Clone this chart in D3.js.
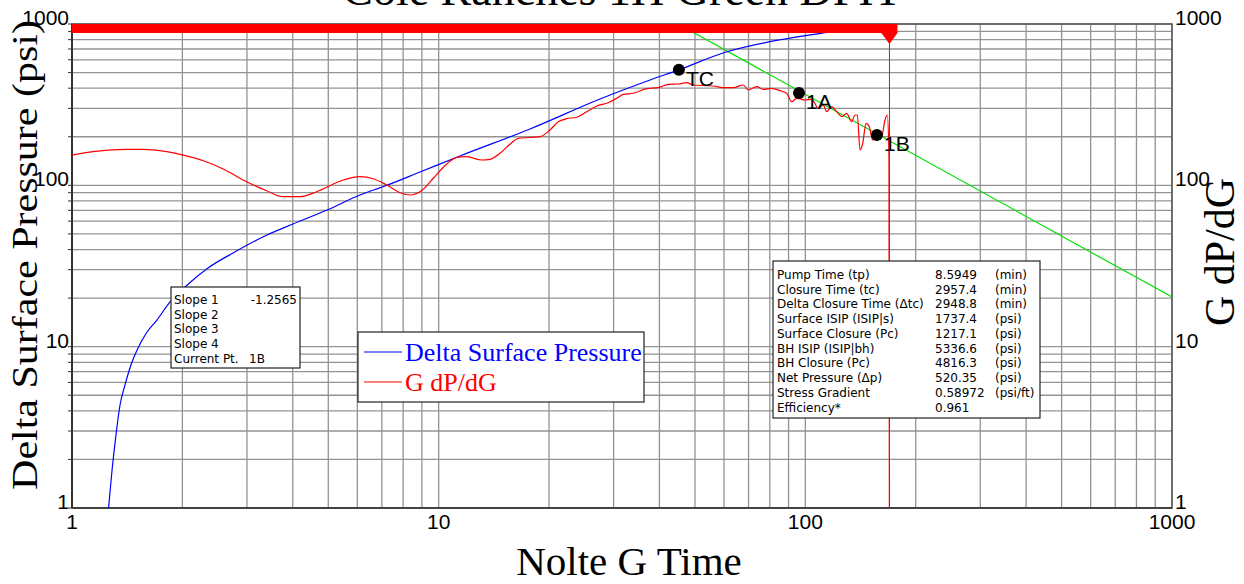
<!DOCTYPE html>
<html><head><meta charset="utf-8">
<script src="https://cdn.jsdelivr.net/npm/d3@7/dist/d3.min.js"></script>
<style>html,body{margin:0;padding:0;background:#fff;}svg{display:block;}</style>
</head><body>
<svg id="chart" width="1244" height="584"></svg>
<script>
// ---------- DATA ----------
const titleText = "Cole Ranches 1H Green DFIT";
const xTickValues = [1, 10, 100, 1000];
const yTickValues = [1, 10, 100, 1000];

// Delta Surface Pressure (psi) vs Nolte G Time
const blueG = [1.258,1.286,1.318,1.352,1.395,1.448,1.514,1.602,1.705,1.851,2.033,2.349,2.749,3.402,4.006,4.961,6.102,7.139,8.894,11.43,17.75,27.54,37.71,45.2,59.62,84.76,111.7,150.1,193];
const blueV = [1.0,1.72,2.84,4.35,5.79,7.70,9.81,12.33,14.63,18.92,23.44,30.73,38.07,49.23,57.6,70.3,87.1,99.1,120.9,152.0,223.5,342.9,449.8,520,661.2,796,879.7,958,1070];

// G dP/dG vs Nolte G Time
const redG = [1.0,1.143,1.41,1.565,1.813,2.012,2.281,2.586,2.995,3.396,3.77,4.186,4.649,5.495,6.102,6.633,7.216,7.845,8.353,8.988,9.669,10.52,11.2,11.93,13.1,13.8,14.7,15.82,16.49,18.9,20.12,21.2,22.35,23.79,25.33,26.98,29.01,30.59,31.88,33.95,36.93,39.72,42.3,45.04,47.48,49.49,56.1,60.37,63.6,67.73,69.89,73.68,76.8,80.96,85.29,88.96,91.8,94.74,99.8,104.1,108.5,111.9,114.4,118.0,121.8,125.7,129.7,133.8,136.6,138.6,141.0,143.4,146.4,149.4,152.6,156.5,161.5,164.9,167.3,169.1,169.6];
const redV = [154,161.6,167.3,167.3,161.6,154,142.1,126.3,105.3,92.6,85.0,85.0,91.3,107.9,113.1,109.9,100.5,90.0,87.1,92.9,110.6,135.6,149.2,150.5,143.6,145.0,157.9,183.8,195.7,200.2,220.3,248.0,258.9,264.1,286.1,310.3,325.3,346.4,366.7,372.0,397.2,402.9,423.0,424.8,432.7,418.8,412.8,402.9,402.9,418.8,389.9,408.8,393.8,399.5,386.1,372.0,329.9,346.4,338.1,341.5,300.3,314.8,286.1,307.2,286.1,266.4,279.6,248.0,272.9,272.9,165.6,182.2,242.4,230.9,191.0,195.7,200.2,254.1,272.9,150,0.5];

// Straight-line fit (slope -1.2565)
const fitG = [46, 1000];
const fitV = [972, 20.3];

// Picked points
const pointNames = ["TC", "1A", "1B"];
const pointG = [45.2, 96.1, 156.8];
const pointV = [520, 374, 205];

const closureG = 169.6;

// Annotation boxes
const slopeLabels = ["Slope 1", "Slope 2", "Slope 3", "Slope 4", "Current Pt."];
const slopeValues = ["-1.2565", "", "", "", "1B"];

const infoLabels = ["Pump Time (tp)","Closure Time (tc)","Delta Closure Time (\u0394tc)","Surface ISIP (ISIP|s)","Surface Closure (Pc)","BH ISIP (ISIP|bh)","BH Closure (Pc)","Net Pressure (\u0394p)","Stress Gradient","Efficiency*"];
const infoValues = ["8.5949","2957.4","2948.8","1737.4","1217.1","5336.6","4816.3","520.35","0.58972","0.961"];
const infoUnits = ["(min)","(min)","(min)","(psi)","(psi)","(psi)","(psi)","(psi)","(psi/ft)",""];

const legendNames = ["Delta Surface Pressure", "G dP/dG"];
const legendColors = ["#0000ff", "#ff0000"];

// ---------- CHART ----------
const svg = d3.select("#chart");
const L = 72, R = 1172, T = 24, B = 508;
const x = d3.scaleLog().domain([1, 1000]).range([L, R]);
const y = d3.scaleLog().domain([1, 1000]).range([B, T]);

svg.append("defs").append("clipPath").attr("id", "clip")
  .append("rect").attr("x", L).attr("y", T).attr("width", R - L).attr("height", B - T);

// grid values
const gridVals = [];
[1, 10, 100].forEach(d => { for (let k = 1; k <= 9; k++) gridVals.push(k * d); });
gridVals.push(1000);

const grid = svg.append("g").attr("stroke", "#939393").attr("stroke-width", 1.3);
gridVals.forEach(v => {
  grid.append("line").attr("x1", x(v)).attr("x2", x(v)).attr("y1", T).attr("y2", B);
  grid.append("line").attr("y1", y(v)).attr("y2", y(v)).attr("x1", L).attr("x2", R);
});

// left axis minor ticks
const ticks = svg.append("g").attr("stroke", "#333").attr("stroke-width", 1);
gridVals.forEach(v => {
  ticks.append("line").attr("x1", L - 4).attr("x2", L).attr("y1", y(v)).attr("y2", y(v));
});

// border
svg.append("rect").attr("x", L).attr("y", T).attr("width", R - L).attr("height", B - T)
  .attr("fill", "none").attr("stroke", "#555").attr("stroke-width", 1.5);
svg.append("line").attr("x1", L).attr("x2", L).attr("y1", T).attr("y2", B).attr("stroke", "#333").attr("stroke-width", 2);
svg.append("line").attr("x1", L).attr("x2", R).attr("y1", B).attr("y2", B).attr("stroke", "#333").attr("stroke-width", 1.5);

const plot = svg.append("g").attr("clip-path", "url(#clip)");

const lineGen = d3.line().x(d => x(d[0])).y(d => y(d[1]));
const smoothLine = d3.line().x(d => x(d[0])).y(d => y(d[1])).curve(d3.curveMonotoneX);

// closure vertical line
plot.append("line").attr("x1", x(closureG)).attr("x2", x(closureG)).attr("y1", T + 9).attr("y2", B)
  .attr("stroke", "#ff0000").attr("stroke-width", 1);

// fit line
plot.append("path").datum(fitG.map((g, i) => [g, fitV[i]])).attr("d", lineGen)
  .attr("fill", "none").attr("stroke", "#00e000").attr("stroke-width", 1.2);

// blue
plot.append("path").datum(blueG.map((g, i) => [g, blueV[i]])).attr("d", smoothLine)
  .attr("fill", "none").attr("stroke", "#0000ff").attr("stroke-width", 1.2);

// red
plot.append("path").datum(redG.map((g, i) => [g, redV[i]])).attr("d", smoothLine)
  .attr("fill", "none").attr("stroke", "#ff0000").attr("stroke-width", 1.2);

// top red band and marker
svg.append("rect").attr("x", x(1)).attr("y", T).attr("width", x(closureG) + 8 - x(1)).attr("height", 9).attr("fill", "#ff0000");
const cx = x(closureG);
svg.append("path").attr("d", `M${cx - 8},${T + 9} L${cx + 8},${T + 9} L${cx},${T + 20} Z`).attr("fill", "#ff0000");

// points
pointNames.forEach((n, i) => {
  svg.append("circle").attr("cx", x(pointG[i])).attr("cy", y(pointV[i])).attr("r", 6).attr("fill", "#000");
  svg.append("text").attr("x", x(pointG[i]) + 7).attr("y", y(pointV[i]) + 16)
    .attr("font-family", "Liberation Sans, Arial, sans-serif").attr("font-size", 21).attr("fill", "#000").text(n);
});

// tick labels
const tickFont = "Liberation Sans, Arial, sans-serif";
yTickValues.forEach(v => {
  svg.append("text").attr("x", L - 3).attr("y", y(v) + 1).attr("text-anchor", "end")
    .attr("font-family", tickFont).attr("font-size", 21).text(v);
  svg.append("text").attr("x", R + 3).attr("y", y(v) + 1).attr("text-anchor", "start")
    .attr("font-family", tickFont).attr("font-size", 21).text(v);
});
xTickValues.forEach(v => {
  svg.append("text").attr("x", x(v)).attr("y", B + 21).attr("text-anchor", "middle")
    .attr("font-family", tickFont).attr("font-size", 21).text(v);
});

// axis titles
const serif = "Liberation Serif, Times New Roman, serif";
svg.append("text").attr("transform", `translate(37,255) rotate(-90) scale(1,0.85)`).attr("text-anchor", "middle")
  .attr("font-family", serif).attr("font-size", 42).text("Delta Surface Pressure (psi)");
svg.append("text").attr("transform", `translate(1234,252) rotate(-90)`).attr("text-anchor", "middle")
  .attr("font-family", serif).attr("font-size", 42).text("G dP/dG");
svg.append("text").attr("x", 629).attr("y", 575).attr("text-anchor", "middle")
  .attr("font-family", serif).attr("font-size", 41).text("Nolte G Time");
// title (clipped at top)
svg.append("text").attr("x", 622).attr("y", 5).attr("text-anchor", "middle")
  .attr("font-family", serif).attr("font-size", 46).text(titleText);

// slope box
const boxFont = "DejaVu Sans, Verdana, sans-serif";
const sb = svg.append("g").attr("font-family", boxFont).attr("font-size", 12);
sb.append("rect").attr("x", 171).attr("y", 287).attr("width", 129).attr("height", 81)
  .attr("fill", "#fff").attr("stroke", "#222").attr("stroke-width", 1.2);
slopeLabels.forEach((t, i) => {
  sb.append("text").attr("x", 174).attr("y", 304 + i * 14.7).text(t);
  sb.append("text").attr("x", i === 4 ? 249 : 297).attr("y", 304 + i * 14.7).attr("text-anchor", i === 4 ? "start" : "end")
    .text(slopeValues[i]);
});

// info box
const ib = svg.append("g").attr("font-family", boxFont).attr("font-size", 12);
ib.append("rect").attr("x", 773).attr("y", 261).attr("width", 267).attr("height", 157)
  .attr("fill", "#fff").attr("stroke", "#222").attr("stroke-width", 1.2);
infoLabels.forEach((t, i) => {
  const yy = 279 + i * 14.74;
  ib.append("text").attr("x", 777).attr("y", yy).text(t);
  ib.append("text").attr("x", 935).attr("y", yy).text(infoValues[i]);
  ib.append("text").attr("x", 995).attr("y", yy).text(infoUnits[i]);
});

// legend
const lg = svg.append("g");
lg.append("rect").attr("x", 358).attr("y", 332).attr("width", 286).attr("height", 70)
  .attr("fill", "#fff").attr("stroke", "#222").attr("stroke-width", 1.2);
legendNames.forEach((n, i) => {
  const yy = 352 + i * 30;
  lg.append("line").attr("x1", 364).attr("x2", 402).attr("y1", yy).attr("y2", yy).attr("stroke", legendColors[i]).attr("stroke-width", 1.2);
  lg.append("text").attr("x", 405).attr("y", yy + 9).attr("font-family", serif).attr("font-size", 26)
    .attr("fill", legendColors[i]).text(n);
});
</script>
</body></html>
